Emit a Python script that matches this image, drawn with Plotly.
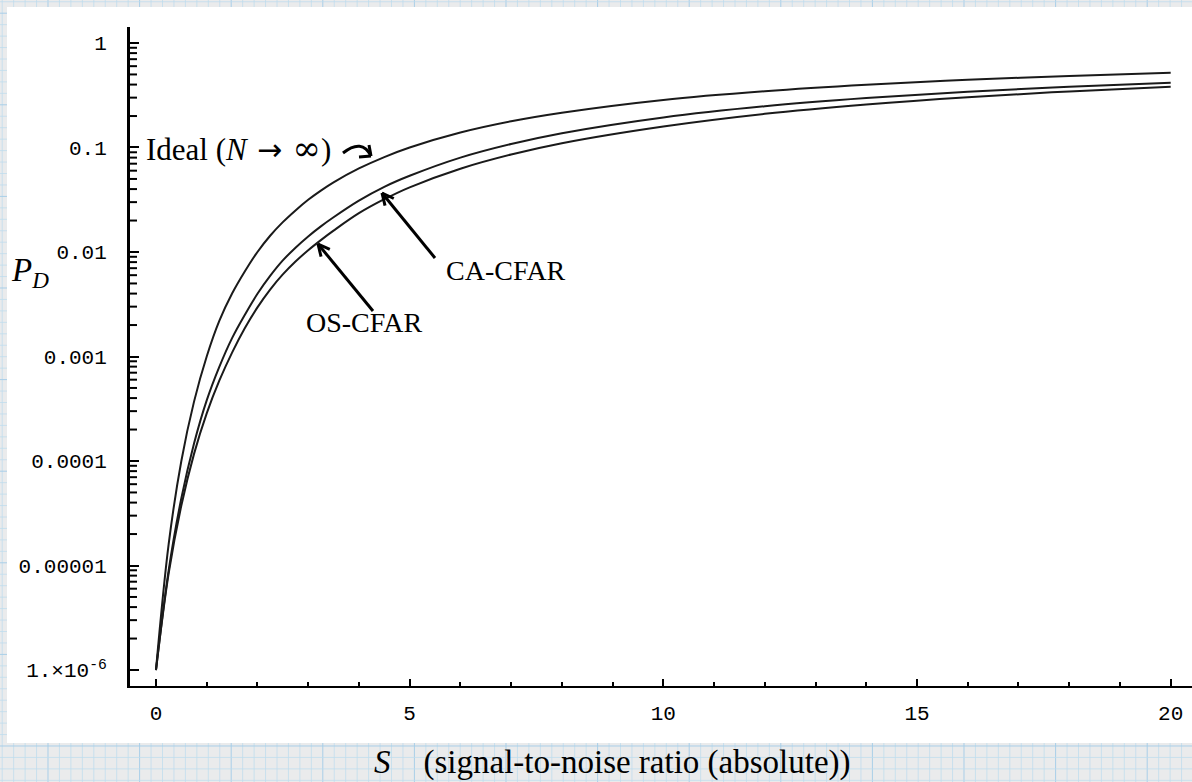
import math
import plotly.graph_objects as go

# ---------------- data ----------------
snr = [0, 0.25, 0.5, 0.75, 1, 1.25, 1.5, 1.75, 2, 2.25, 2.5, 2.75, 3, 3.25, 3.5, 4, 4.5,
       5, 6, 7, 8, 10, 12, 14, 16, 18, 20]
pd_ideal = [1.0e-6, 1.6e-5, 1.0e-4, 3.7e-4, 1.0e-3, 2.2e-3, 4.0e-3, 6.5e-3, 1.0e-2, 1.43e-2,
            1.93e-2, 2.5e-2, 3.16e-2, 3.87e-2, 4.64e-2, 6.3e-2, 8.1e-2,
            0.100, 0.139, 0.178, 0.215, 0.285, 0.345, 0.398, 0.444, 0.483, 0.518]
pd_ca = [1.0e-6, 9.0e-6, 4.4e-5, 1.47e-4, 3.8e-4, 8.0e-4, 1.5e-3, 2.5e-3, 3.98e-3, 5.9e-3,
         8.3e-3, 1.1e-2, 1.41e-2, 1.76e-2, 2.15e-2, 3.1e-2, 4.2e-2,
         5.36e-2, 8.0e-2, 0.108, 0.137, 0.194, 0.248, 0.297, 0.342, 0.382, 0.416]
pd_os = [1.0e-6, 8.4e-6, 3.75e-5, 1.17e-4, 2.86e-4, 5.9e-4, 1.09e-3, 1.86e-3, 2.95e-3, 4.37e-3,
         6.1e-3, 8.1e-3, 1.04e-2, 1.3e-2, 1.6e-2, 2.35e-2, 3.2e-2,
         4.16e-2, 6.27e-2, 8.57e-2, 0.110, 0.159, 0.210, 0.258, 0.303, 0.344, 0.381]

ytick_vals = [1e-6, 1e-5, 1e-4, 1e-3, 1e-2, 1e-1, 1]
ytick_text = ["1.\u00d710<sup>-6</sup>", "0.00001", "0.0001", "0.001", "0.01", "0.1", "1"]
yminor_vals = [m * d for d in [1e-6, 1e-5, 1e-4, 1e-3, 1e-2, 1e-1] for m in range(2, 10)]
xtick_vals = [0, 5, 10, 15, 20]
xtick_text = ["0", "5", "10", "15", "20"]
xminor_vals = [v for v in range(0, 21) if v % 5 != 0]

# ---------------- geometry ----------------
W, H = 1192, 782
L, R, T, B = 130, 0, 27, 96
PW, PH = W - L - R, H - T - B
YR = [-6.153, 0.153]


def px(x):
    return (x - L) / PW


def py(y):
    return (H - B - y) / PH


def yfrac(v):
    return (math.log10(v) - YR[0]) / (YR[1] - YR[0])


fig = go.Figure()
line = dict(color="#1a1a1a", width=2)
for name, ys in [("Ideal", pd_ideal), ("CA-CFAR", pd_ca), ("OS-CFAR", pd_os)]:
    fig.add_trace(go.Scatter(x=snr, y=ys, mode="lines", line=line, name=name,
                             line_shape="spline", showlegend=False))

shapes = []
# graph-paper background
minor_c, major_c = "rgba(190,220,238,0.75)", "rgba(165,205,232,0.95)"
step = 11.45
x0 = 48.0
k = -5
while True:
    xx = x0 + k * step
    if xx > W + 1:
        break
    if xx >= -1:
        shapes.append(dict(type="line", xref="paper", yref="paper", x0=px(xx), x1=px(xx),
                           y0=py(0), y1=py(H), layer="below",
                           line=dict(color=major_c if k % 8 == 0 else minor_c, width=1)))
    k += 1
y0g = 746.0
k = -70
while True:
    yy = y0g + k * step
    if yy > H + 1:
        break
    if yy >= -1:
        shapes.append(dict(type="line", xref="paper", yref="paper", x0=px(0), x1=px(W),
                           y0=py(yy), y1=py(yy), layer="below",
                           line=dict(color=major_c if k % 8 == 0 else minor_c, width=1)))
    k += 1
# white sheet
shapes.append(dict(type="rect", xref="paper", yref="paper", x0=px(7), x1=px(W + 5),
                   y0=py(743), y1=py(7), layer="below", fillcolor="white",
                   line=dict(width=0)))

# minor ticks on the log axis (2..9 of each decade)
for v in yminor_vals:
    f = yfrac(v)
    shapes.append(dict(type="line", xref="paper", yref="paper", x0=0.0, x1=7.0 / PW,
                       y0=f, y1=f, layer="above", line=dict(color="black", width=2)))


def arrow(tail, tip, head=13):
    (tx, ty), (hx, hy) = tail, tip
    ang = math.atan2(ty - hy, tx - hx)
    out = [dict(type="line", xref="paper", yref="paper", x0=px(tx), y0=py(ty),
                x1=px(hx), y1=py(hy), line=dict(color="black", width=3))]
    for d in (0.45, -0.45):
        ex = hx + head * math.cos(ang + d)
        ey = hy + head * math.sin(ang + d)
        out.append(dict(type="line", xref="paper", yref="paper", x0=px(hx), y0=py(hy),
                        x1=px(ex), y1=py(ey), line=dict(color="black", width=3)))
    return out


shapes += arrow((435, 258), (382, 193))
shapes += arrow((373, 311), (318, 244))
# curved arrow for "Ideal"
path = "M {} {} Q {} {} {} {}".format(px(343), py(153), px(362), py(138), px(371), py(156))
shapes.append(dict(type="path", xref="paper", yref="paper", path=path,
                   line=dict(color="black", width=3)))
shapes.append(dict(type="line", xref="paper", yref="paper", x0=px(371), y0=py(156),
                   x1=px(359), y1=py(157), line=dict(color="black", width=3)))
shapes.append(dict(type="line", xref="paper", yref="paper", x0=px(371), y0=py(156),
                   x1=px(369), y1=py(145), line=dict(color="black", width=3)))

serif = "Liberation Serif, Times New Roman, serif"
ideal_txt = ("Ideal (<i>N</i>\u2004<span style=\"font-family:DejaVu Sans;font-size:30px\">\u2192</span>"
             "\u2004<span style=\"font-family:DejaVu Serif;font-size:34px\">\u221e</span>)")
annotations = [
    dict(text=ideal_txt, x=px(144), y=py(148), xanchor="left",
         yanchor="middle", font=dict(family=serif, size=31, color="black")),
    dict(text="CA-CFAR", x=px(444), y=py(270), xanchor="left", yanchor="middle",
         font=dict(family=serif, size=28, color="black")),
    dict(text="OS-CFAR", x=px(304), y=py(323), xanchor="left", yanchor="middle",
         font=dict(family=serif, size=28, color="black")),
    dict(text="<i>P</i><sub><i>D</i></sub>", x=px(9), y=py(272), xanchor="left",
         yanchor="middle", font=dict(family=serif, size=33, color="black")),
    dict(text="<i>S</i>\u2003(signal-to-noise ratio (absolute))", x=px(612), y=py(762),
         xanchor="center", yanchor="middle", font=dict(family=serif, size=33, color="black")),
]
for a in annotations:
    a.update(xref="paper", yref="paper", showarrow=False)

mono = dict(family="Liberation Mono, DejaVu Sans Mono, monospace", size=21, color="black")
fig.update_layout(
    width=W, height=H, margin=dict(l=L, r=R, t=T, b=B, pad=0),
    paper_bgcolor="rgb(234,235,236)", plot_bgcolor="white",
    shapes=shapes, annotations=annotations, showlegend=False,
    xaxis=dict(range=[-0.512, 20.42], showgrid=False, zeroline=False, showline=True,
               linecolor="black", linewidth=2, ticks="inside", ticklen=7, tickwidth=2,
               tickcolor="black", tickvals=xtick_vals, ticktext=xtick_text, tickfont=mono,
               ticklabelstandoff=7,
               minor=dict(ticks="inside", ticklen=4, tickwidth=2, tickcolor="black",
                          tickvals=xminor_vals)),
    yaxis=dict(type="log", range=YR, showgrid=False, zeroline=False,
               showline=True, linecolor="black", linewidth=3, ticks="inside", ticklen=9,
               tickwidth=2, tickcolor="black", tickvals=ytick_vals, ticktext=ytick_text,
               tickfont=mono, ticklabelstandoff=16),
)

fig.write_html("out.html")
